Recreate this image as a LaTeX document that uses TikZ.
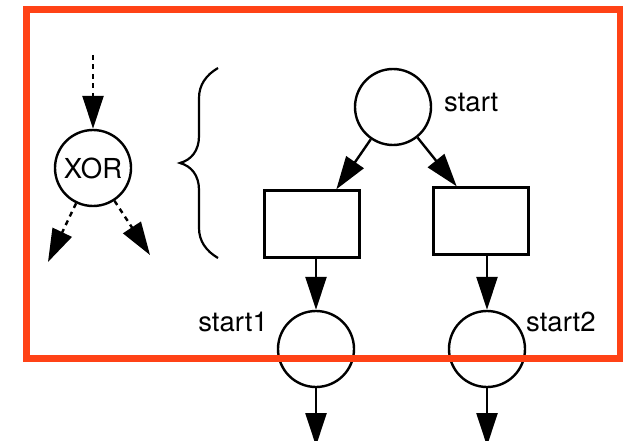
\documentclass[tikz,border=0pt]{standalone}
\usepackage{fontspec}
\setmainfont{TeX Gyre Heros}
\usepackage{tikz}
\usetikzlibrary{positioning}
\usetikzlibrary{calc}
\usetikzlibrary{arrows.meta}
\definecolor{frameorange}{RGB}{255,66,22}
\tikzset{%
  place/.style    = {draw, circle, line width=2.4pt, minimum size=76pt, inner sep=0pt}, % Place
  trans/.style    = {draw, rectangle, line width=2.4pt, minimum width=95pt,
    minimum height=67pt}, % Transition
  lbl/.style      = {inner sep=0pt}, % Label
  dashedarc/.style = {->, line width=2.4pt, dash pattern=on 5pt off 4.5pt},
  arc/.style      = {->, line width=2.4pt},
  frame/.style    = {draw=frameorange, line width=7pt}
}

\begin{document}
\begin{tikzpicture}[x=1pt, y=-1pt, font=\fontsize{27.5pt}{30pt}\selectfont,
    >={Triangle[length=33pt, width=21pt]}]
  \useasboundingbox (0,0) rectangle (623,441);

  % XOR symbol
  \draw node at (93,168) [place] (xor) {XOR};
  \coordinate (xin) at (93,55);
  \coordinate (xout1) at (48,262);
  \coordinate (xout2) at (150,255);
  \draw[dashedarc] (xin) -- (xor);
  \draw[dashedarc] (xor) -- (xout1);
  \draw[dashedarc] (xor) -- (xout2);

  % brace
  \draw[line width=2.2pt] (218,68) .. controls (206,75) and (199,85) .. (199,98)
    -- (199,136) .. controls (199,151) and (191,160) .. (180,163)
    .. controls (191,166) and (199,175) .. (199,190)
    -- (199,228) .. controls (199,241) and (206,251) .. (218,258);

  % net
  \draw node at (393,107) [place] (p0) {};
  \draw node at (312,224) [trans] (t1) {};
  \draw node at (481,221) [trans] (t2) {};
  \draw node at (316,349) [place] (p1) {};
  \draw node at (487,349) [place] (p2) {};
  \coordinate (out1) at (316,446);
  \coordinate (out2) at (487,446);

  \draw node at (444,103) [lbl, anchor=west] (l0) {start};
  \draw node at (268,322) [lbl, anchor=east] (l1) {start1};
  \draw node at (526,322) [lbl, anchor=west] (l2) {start2};

  \draw[arc] (p0) -- ($(t1.north)!0.5!(t1.north east)$);
  \draw[arc] (p0) -- ($(t2.north)!0.5!(t2.north west)$);
  \draw[arc] (p1 |- t1.south) -- (p1);
  \draw[arc] (p2 |- t2.south) -- (p2);
  \draw[arc] (p1) -- (out1);
  \draw[arc] (p2) -- (out2);

  % frame
  \draw[frame] (26,10) rectangle (620,358);

\end{tikzpicture}
\end{document}
